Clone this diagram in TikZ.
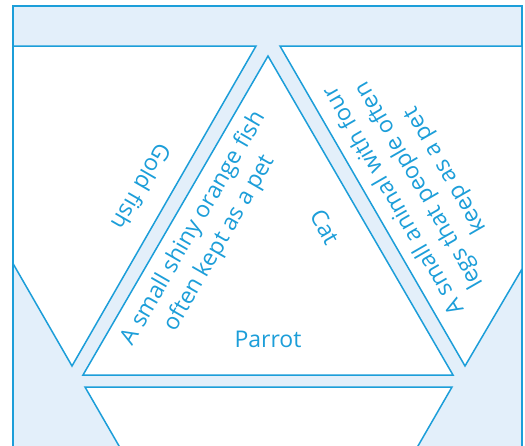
\documentclass[tikz,border=0pt]{standalone}
\usepackage{fontspec}
\setmainfont{Open Sans}
\definecolor{edgeblue}{RGB}{28,158,217}
\definecolor{gapblue}{RGB}{227,239,250}
\tikzset{
  piece/.style={fill=white,draw=edgeblue,line width=1.5pt,line join=miter},
  frame/.style={fill=gapblue,draw=edgeblue,line width=1.5pt},
  lbl/.style={text=edgeblue,font=\fontsize{23}{30}\selectfont,align=center,inner sep=0pt}
}
\begin{document}
\begin{tikzpicture}[x=1pt,y=-1pt]
\useasboundingbox (0,0) rectangle (525,445);
\clip (0,0) rectangle (525,445);
\draw[frame] (13,6) rectangle (522,470);
% pieces
\draw[piece] (13,46) -- (256,46) -- (72,366) -- (13,263.5) -- cycle;
\draw[piece] (280,46) -- (522,46) -- (522,269) -- (465,366) -- cycle;
\draw[piece] (268,56) -- (453,375) -- (83,375) -- cycle;
\draw[piece] (85,387) -- (452,387) -- (268.5,705) -- cycle;
% labels
\node[lbl,rotate=240] (goldfish) at (142,187) {Gold fish};
\node[lbl,rotate=60] (fishdef) at (207,236) {A small shiny orange fish\\often kept as a pet};
\node[lbl,rotate=-60] (cat) at (325,227) {Cat};
\node[lbl,rotate=120] (catdef) at (420,185) {A small animal with four\\legs that people often\\keep as a pet};
\node[lbl] (parrot) at (268,339) {Parrot};
\end{tikzpicture}
\end{document}
